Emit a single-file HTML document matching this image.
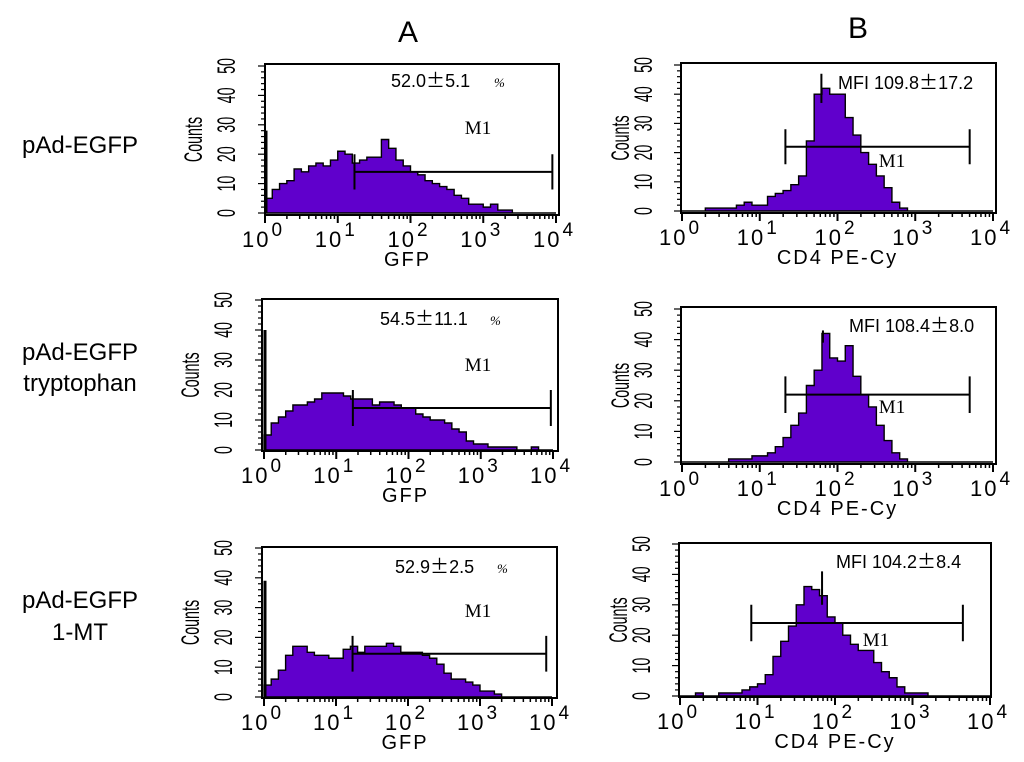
<!DOCTYPE html>
<html><head><meta charset="utf-8"><style>
body{margin:0;background:#fff;}
svg{display:block;font-family:"Liberation Sans",sans-serif;}
</style></head><body>
<svg id="fig" width="1024" height="762" viewBox="0 0 1024 762">
<text x="408" y="42" font-size="30" text-anchor="middle">A</text>
<text x="858" y="38" font-size="30" text-anchor="middle">B</text>
<text x="80" y="153" font-size="24" text-anchor="middle">pAd-EGFP</text>
<text x="80" y="360" font-size="24" text-anchor="middle">pAd-EGFP</text>
<text x="80" y="391" font-size="24" text-anchor="middle">tryptophan</text>
<text x="80" y="608" font-size="24" text-anchor="middle">pAd-EGFP</text>
<text x="80" y="640" font-size="24" text-anchor="middle">1-MT</text>
</svg>
<script>
const binLog = [0,0.1,0.2,0.3,0.4,0.5,0.6,0.7,0.8,0.9,1.0,1.1,1.2,1.3,1.4,1.5,1.6,1.7,1.8,1.9,2.0,2.1,2.2,2.3,2.4,2.5,2.6,2.7,2.8,2.9,3.0,3.1,3.2,3.3,3.4,3.5,3.6,3.7,3.8,3.9];
const yTicks = [0,10,20,30,40,50];
const xDecades = [0,1,2,3,4];
const countsA1 = [5,8,10,11,15,14,16,17,16,18,21,20,17,18,19,19,25,22,18,16,14,13,11,10,9,8,6,5,3,3,2,3,1,1,0,0,0,0,0,0];
const countsA2 = [5,9,11,13,15,15,16,17,19,19,19,18,17,17,17,15,16,16,15,14,14,12,11,10,10,9,7,6,3,2,2,1,1,1,1,0,0,1,0,0];
const countsA3 = [4,6,9,14,17,17,15,14,14,13,13,16,17,15,17,17,17,18,17,15,15,15,14,13,11,8,6,6,5,4,2,2,1,0,0,0,0,0,0,0];
const countsB1 = [0,0,0,1,1,1,1,2,3,2,2,5,6,7,9,12,24,40,42,40,40,32,26,20,16,12,8,3,1,0,0,0,0,0,0,0,0,0,0,0];
const countsB2 = [0,0,0,0,0,0,1,1,1,2,2,3,5,8,12,16,25,30,42,34,33,38,28,22,18,12,7,3,1,0,0,0,0,0,0,0,0,0,0,0];
const countsB3 = [0,0,1,0,0,1,1,1,2,3,4,7,13,18,23,30,36,35,33,26,24,20,17,15,15,11,8,6,3,1,1,1,0,0,0,0,0,0,0,0];
const spikeA1 = [0, 28]; const spikeA2 = [0, 40]; const spikeA3 = [0, 39];
const spikeB1 = [1.78, 47]; const spikeB2 = [1.8, 43]; const spikeB3 = [1.82, 41];
const gateA1 = [1.23, 3.95, 14]; const gateA2 = [1.23, 3.97, 14]; const gateA3 = [1.23, 3.92, 14.5];
const gateB1 = [1.33, 3.70, 22]; const gateB2 = [1.33, 3.70, 22]; const gateB3 = [0.92, 3.65, 24];
const statA1 = ["52.0", "5.1"]; const statA2 = ["54.5", "11.1"]; const statA3 = ["52.9", "2.5"];
const statB1 = ["MFI 109.8", "17.2"]; const statB2 = ["MFI 108.4", "8.0"]; const statB3 = ["MFI 104.2", "8.4"];

const NS = "http://www.w3.org/2000/svg";
const svg = document.getElementById('fig');
function mk(tag, attrs, parent, txt){
  const e = document.createElementNS(NS, tag);
  for (const k in attrs) e.setAttribute(k, attrs[k]);
  if (txt !== undefined) e.textContent = txt;
  parent.appendChild(e); return e;
}
const panels = [
 {id:'a1', counts:countsA1, spike:spikeA1, gate:gateA1, stat:statA1, kind:'A', bx0:265,bx1:559,by0:64,by1:215, x0:265,x1:556,y50:66,y0:213, xl:'GFP', sx:391, sy:87, px:494, gx:478, gy:134},
 {id:'a2', counts:countsA2, spike:spikeA2, gate:gateA2, stat:statA2, kind:'A', bx0:262,bx1:558,by0:299,by1:451, x0:264,x1:553,y50:300,y0:450, xl:'GFP', sx:380, sy:325, px:490, gx:478, gy:371},
 {id:'a3', counts:countsA3, spike:spikeA3, gate:gateA3, stat:statA3, kind:'A', bx0:262,bx1:557,by0:547,by1:698, x0:264,x1:552,y50:548,y0:697, xl:'GFP', sx:395, sy:573, px:497, gx:478, gy:617},
 {id:'b1', counts:countsB1, spike:spikeB1, gate:gateB1, stat:statB1, kind:'B', bx0:681,bx1:996,by0:63,by1:213, x0:682,x1:993,y50:65,y0:211, xl:'CD4 PE-Cy', sx:838, sy:89, gx:892, gy:167},
 {id:'b2', counts:countsB2, spike:spikeB2, gate:gateB2, stat:statB2, kind:'B', bx0:681,bx1:996,by0:307,by1:464, x0:682,x1:993,y50:309,y0:462, xl:'CD4 PE-Cy', sx:849, sy:332, gx:892, gy:413},
 {id:'b3', counts:countsB3, spike:spikeB3, gate:gateB3, stat:statB3, kind:'B', bx0:679,bx1:991,by0:543,by1:697, x0:680,x1:990,y50:544,y0:696, xl:'CD4 PE-Cy', sx:836, sy:568, gx:876, gy:646}
];
panels.forEach(p => {
  const g = mk('g', {}, svg);
  
  
  const X = v => p.x0 + (p.x1 - p.x0) * v / 4;
  const Y = v => p.y0 - (p.y0 - p.y50) * v / 50;
  let d = 'M' + X(binLog[0]) + ',' + Y(0);
  p.counts.forEach((c, i) => {
    const a = X(binLog[i]), b = X(binLog[i] + 0.1);
    d += ' L' + a + ',' + Y(c) + ' L' + b + ',' + Y(c);
  });
  d += ' L' + X(4) + ',' + Y(0) + ' Z';
  const h = mk('path', {d:d, fill:'#6000cc', stroke:'#000', 'stroke-width':1.4, 'stroke-linejoin':'miter'}, g);
  
  
  let spBase = 0;
  if (p.kind === 'B') {
    const idx = Math.min(binLog.length - 1, Math.floor(p.spike[0] * 10 + 1e-6));
    spBase = p.counts[idx] - 3;
  }
  const sp = mk('line', {x1:X(p.spike[0])+1, x2:X(p.spike[0])+1, y1:Y(spBase), y2:Y(p.spike[1]), stroke:'#000', 'stroke-width': p.kind==='A'?3:2}, g);
  
  
  const bx = mk('rect', {x:p.bx0, y:p.by0, width:p.bx1-p.bx0, height:p.by1-p.by0, fill:'none', stroke:'#000', 'stroke-width':2}, g);
  
  
  for (let v = 0; v <= 50; v += 2) {
    const major = v % 10 === 0;
    mk('line', {x1:p.bx0 - (major?7:4), x2:p.bx0, y1:Y(v), y2:Y(v), stroke:'#000', 'stroke-width':1.2}, g);
  }
  yTicks.forEach(v => {
    const t = mk('text', {x:0, y:0, 'font-size':19, 'text-anchor':'middle', transform:'translate(' + (p.bx0 - (p.kind==='A'?30:29)) + ',' + Y(v) + ') rotate(-90) scale(0.75,1.3)', 'font-family':'"Liberation Sans Narrow","Liberation Sans",sans-serif'}, g, String(v));
    
    
  });
  const yt = mk('text', {x:0, y:0, 'font-size':19, 'text-anchor':'middle', transform:'translate(' + (p.bx0 - (p.kind==='A'?63:52)) + ',' + ((p.y0+p.y50)/2) + ') rotate(-90) scale(0.75,1.3)', 'font-family':'"Liberation Sans Narrow","Liberation Sans",sans-serif'}, g, 'Counts');
  
  
  for (let dd = 0; dd < 4; dd++) {
    for (let m = 2; m <= 9; m++) {
      const xv = X(dd + Math.log10(m));
      mk('line', {x1:xv, x2:xv, y1:p.by1, y2:p.by1 + 4, stroke:'#000', 'stroke-width':1.5}, g);
    }
  }
  xDecades.forEach(dd => {
    mk('line', {x1:X(dd), x2:X(dd), y1:p.by1, y2:p.by1 + 8, stroke:'#000', 'stroke-width':2}, g);
    const t = mk('text', {x:X(dd) - 2, y:p.by1 + 32, 'font-size':22, 'text-anchor':'middle', 'letter-spacing':'2'}, g);
    
    
    mk('tspan', {}, t, '10');
    mk('tspan', {dy:-11, 'font-size':19, dx:1}, t, String(dd));
  });
  const xt = mk('text', {x:(p.x0+p.x1)/2 + (p.kind==='A'?-3:0), y:p.by1 + 51, 'font-size':20, 'text-anchor':'middle', 'letter-spacing':'2'}, g, p.xl);
  
  
  const [ga, gb, gy] = p.gate;
  const gl = mk('path', {d:'M'+X(ga)+','+Y(gy)+' L'+X(gb)+','+Y(gy)+' M'+X(ga)+','+Y(gy-6)+' L'+X(ga)+','+Y(gy+6)+' M'+X(gb)+','+Y(gy-6)+' L'+X(gb)+','+Y(gy+6), stroke:'#000', 'stroke-width':2, fill:'none'}, g);
  
  
  const m1 = mk('text', {x:p.gx, y:p.gy, 'font-size':19, 'text-anchor':'middle', 'font-family':'"Liberation Serif",serif'}, g, 'M1');
  
  
  const st = mk('text', {x:p.sx, y:p.sy, 'font-size':18, 'text-anchor':'start'}, g);
  
  
  mk('tspan', {}, st, p.stat[0]);
  mk('tspan', {'font-family':'"Noto Sans CJK SC",sans-serif', 'font-size':19}, st, '\uff0b'.replace('\uff0b','\u00b1'));
  mk('tspan', {}, st, p.stat[1]);
  if (p.kind === 'A') {
    const pc = mk('text', {x:p.px, y:p.sy, 'font-size':13, 'font-style':'italic', 'font-family':'"Liberation Serif",serif'}, g, '%');
    
    
  }
});
</script>
</body></html>
